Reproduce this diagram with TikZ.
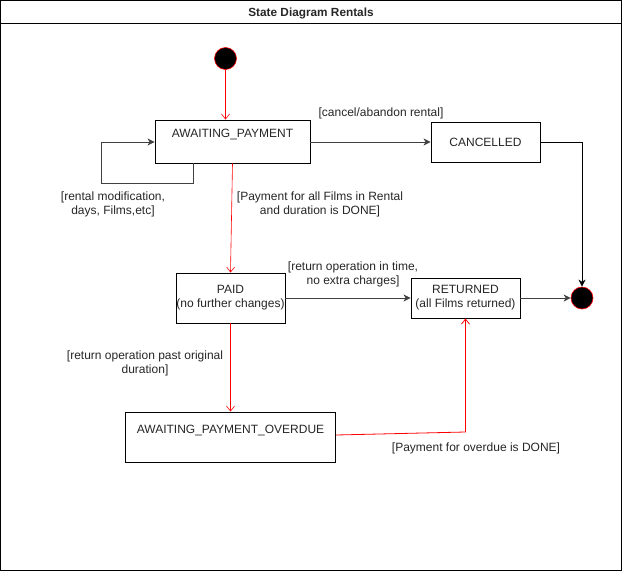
\documentclass[tikz,border=0pt]{standalone}
\usepackage{fontspec}
\setmainfont{Liberation Sans}
\usetikzlibrary{arrows.meta}
\begin{document}
\begin{tikzpicture}[x=1pt,y=-1pt,
  every node/.style={font=\fontsize{12}{14}\selectfont, text=black!85},
  statebox/.style={draw=black, line width=0.9pt, fill=white, inner sep=0pt},
  initst/.style={circle, fill=black, draw=red, line width=0.6pt, minimum size=22pt, inner sep=0pt},
  redarrow/.style={draw=red, line width=0.6pt, -{Straight Barb[length=5pt,width=8pt]}},
  redline/.style={draw=red, line width=0.8pt},
  blackarrow/.style={draw=black!75, line width=1pt, -{Stealth[length=7pt,width=7pt,inset=2pt]}},
  lbl/.style={align=center, inner sep=0pt, font=\fontsize{12}{13.8}\selectfont}
]
\useasboundingbox (0,0) rectangle (622,571);
\draw[line width=1pt] (0.5,0.5) rectangle (621.5,570.5);
\draw[line width=1pt] (0.5,23) -- (621.5,23);
\node[font=\bfseries\fontsize{11.8}{14}\selectfont] (title) at (311,13) {State Diagram Rentals};

% states
\node[initst] (init) at (225.5,58.5) {};
\node[initst] (final) at (582,298) {};

\node[statebox, minimum width=155pt, minimum height=43pt] (ap) at (232.5,141.5) {};
\node (aptxt) at (232.5,134.5) {AWAITING\_PAYMENT};

\node[statebox, minimum width=109pt, minimum height=40pt] (canc) at (485.5,142) {CANCELLED};

\node[statebox, minimum width=109pt, minimum height=50pt, align=center] (paid) at (230.5,298) {PAID\\(no further changes)};

\node[statebox, minimum width=109pt, minimum height=40pt, align=center] (ret) at (465.5,298) {RETURNED\\(all Films returned)};

\node[statebox, minimum width=210pt, minimum height=50pt] (apo) at (230.5,437) {};
\node (apotxt) at (230.5,430) {AWAITING\_PAYMENT\_OVERDUE};

% connectors
\draw[redarrow] (init.south) -- (ap.north -| init);
\draw[blackarrow] (ap.south -| 193,0) -- (193,183) -- (101,183) -- (101,142) -- (ap.west |- 0,142);
\draw[blackarrow] (ap.east |- canc) -- (canc.west);
\draw[blackarrow, draw=black, line width=0.9pt] (canc.east) -- (582,142) -- (final.north);
\draw[redarrow] (ap.south) -- (paid.north);
\draw[blackarrow] (paid.east) -- (ret.west);
\draw[blackarrow] (ret.east) -- (final.west);
\draw[redarrow] (paid.south) -- (apo.north);
\coordinate (bend) at (465.5,432);
\draw[redline, -{Straight Barb[length=5pt,width=8pt]}] (apo.east |- 0,435) -- (bend) -- (ret.south);

% labels
\node[lbl] (l1) at (381,113) {[cancel/abandon rental]};
\node[lbl] (l2) at (113,204) {[rental modification,\\days, Films,etc]};
\node[lbl] (l3) at (320,204) {[Payment for all Films in Rental\\and duration is DONE]};
\node[lbl] (l4) at (353,274) {[return operation in time,\\no extra charges]};
\node[lbl] (l5) at (145,363) {[return operation past original\\duration]};
\node[lbl] (l6) at (476,448) {[Payment for overdue is DONE]};
\end{tikzpicture}
\end{document}
